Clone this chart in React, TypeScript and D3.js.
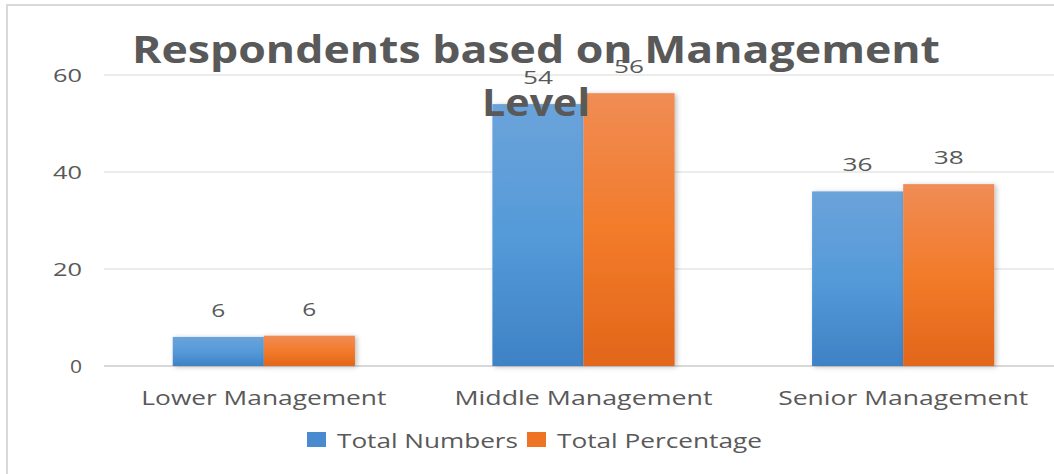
import React from "react";
import * as d3 from "d3";

const categories = ["Lower Management", "Middle Management", "Senior Management"];
const seriesNames = ["Total Numbers", "Total Percentage"];
const totalNumbers = [6, 54, 36];
const totalPercentage = [6.25, 56.25, 37.5];
const yTicks = [0, 20, 40, 60];
const titleLines = ["Respondents based on Management", "Level"];

const W = 1054;
const H = 474;
const FONT = "'Open Sans', 'DejaVu Sans', sans-serif";
const TXT = "#595959";

// approximate rendered widths in the reference (horizontally stretched text)
const catWidths = [245, 258, 250];
const legendWidths = [181, 205];

export default function App() {
  const x0 = d3
    .scaleBand<string>()
    .domain(categories)
    .range([104, 1063])
    .paddingInner(0.43)
    .paddingOuter(0.215);
  const x1 = d3.scaleBand<string>().domain(seriesNames).range([0, x0.bandwidth()]).padding(0);
  const y = d3.scaleLinear().domain([0, 60]).range([366, 75]);
  const fmt = d3.format(".0f");
  const series = [totalNumbers, totalPercentage];
  const gradIds = ["gBlue", "gOrange"];
  const legendColors = ["#4a8bd0", "#ee7424"];

  const numWidth = (s: string) => (s.length === 1 ? 14 : 30);

  return (
    <svg
      width={W}
      height={H}
      style={{ position: "absolute", left: 0, top: 0, background: "#fff" }}
      fontFamily={FONT}
    >
      <defs>
        <linearGradient id="gBlue" x1="0" y1="0" x2="0" y2="1">
          <stop offset="0%" stopColor="#6ba3da" />
          <stop offset="50%" stopColor="#559ad9" />
          <stop offset="100%" stopColor="#3e82c5" />
        </linearGradient>
        <linearGradient id="gOrange" x1="0" y1="0" x2="0" y2="1">
          <stop offset="0%" stopColor="#f08c55" />
          <stop offset="50%" stopColor="#f27b2a" />
          <stop offset="100%" stopColor="#e2661a" />
        </linearGradient>
        <filter id="shadow" x="-10%" y="-10%" width="130%" height="130%">
          <feDropShadow dx="2" dy="1" stdDeviation="2.5" floodColor="#000" floodOpacity="0.25" />
        </filter>
      </defs>
      <rect x={0} y={0} width={W} height={H} fill="#fff" />
      {/* chart border */}
      <rect x={7} y={5} width={W + 20} height={H + 20} fill="none" stroke="#d9d9d9" strokeWidth={2} />

      {/* gridlines */}
      {yTicks.map((t) => (
        <line
          key={"g" + t}
          x1={104}
          x2={W}
          y1={y(t)}
          y2={y(t)}
          stroke="#d9d9d9"
          strokeWidth={t === 0 ? 2 : 1.2}
        />
      ))}
      {/* y tick labels */}
      {yTicks.map((t) => (
        <text
          key={"t" + t}
          x={82}
          y={y(t) + 7}
          textAnchor="end"
          fontSize={19}
          fill={TXT}
          textLength={String(t).length === 1 ? 12 : 29}
          lengthAdjust="spacingAndGlyphs"
        >
          {t}
        </text>
      ))}

      {/* bars */}
      {categories.map((c, ci) => (
        <g key={c} transform={`translate(${x0(c)},0)`}>
          {seriesNames.map((s, si) => (
            <rect
              key={s}
              x={x1(s)}
              y={y(series[si][ci])}
              width={x1.bandwidth()}
              height={y(0) - y(series[si][ci])}
              fill={`url(#${gradIds[si]})`}
              filter="url(#shadow)"
            />
          ))}
        </g>
      ))}

      {/* category labels */}
      {categories.map((c, ci) => (
        <text
          key={"c" + c}
          x={(x0(c) as number) + x0.bandwidth() / 2}
          y={405}
          textAnchor="middle"
          fontSize={20}
          fill={TXT}
          textLength={catWidths[ci]}
          lengthAdjust="spacingAndGlyphs"
        >
          {c}
        </text>
      ))}

      {/* title */}
      <text
        x={132}
        y={63}
        fontSize={37}
        fontWeight="bold"
        fill={TXT}
        textLength={808}
        lengthAdjust="spacingAndGlyphs"
      >
        {titleLines[0]}
      </text>
      <text
        x={482}
        y={116}
        fontSize={37}
        fontWeight="bold"
        fill={TXT}
        textLength={108}
        lengthAdjust="spacingAndGlyphs"
      >
        {titleLines[1]}
      </text>

      {/* value labels */}
      {categories.map((c, ci) =>
        seriesNames.map((s, si) => {
          const label = fmt(series[si][ci]);
          return (
            <text
              key={"v" + c + s}
              x={(x0(c) as number) + (x1(s) as number) + x1.bandwidth() / 2}
              y={y(series[si][ci]) - 20}
              textAnchor="middle"
              fontSize={19}
              fill={TXT}
              textLength={numWidth(label)}
              lengthAdjust="spacingAndGlyphs"
            >
              {label}
            </text>
          );
        })
      )}

      {/* legend */}
      {seriesNames.map((s, si) => {
        const sx = [307, 527][si];
        return (
          <g key={"l" + s}>
            <rect x={sx} y={432} width={19} height={15} fill={legendColors[si]} />
            <text
              x={sx + 30}
              y={448}
              fontSize={20}
              fill={TXT}
              textLength={legendWidths[si]}
              lengthAdjust="spacingAndGlyphs"
            >
              {s}
            </text>
          </g>
        );
      })}
    </svg>
  );
}
